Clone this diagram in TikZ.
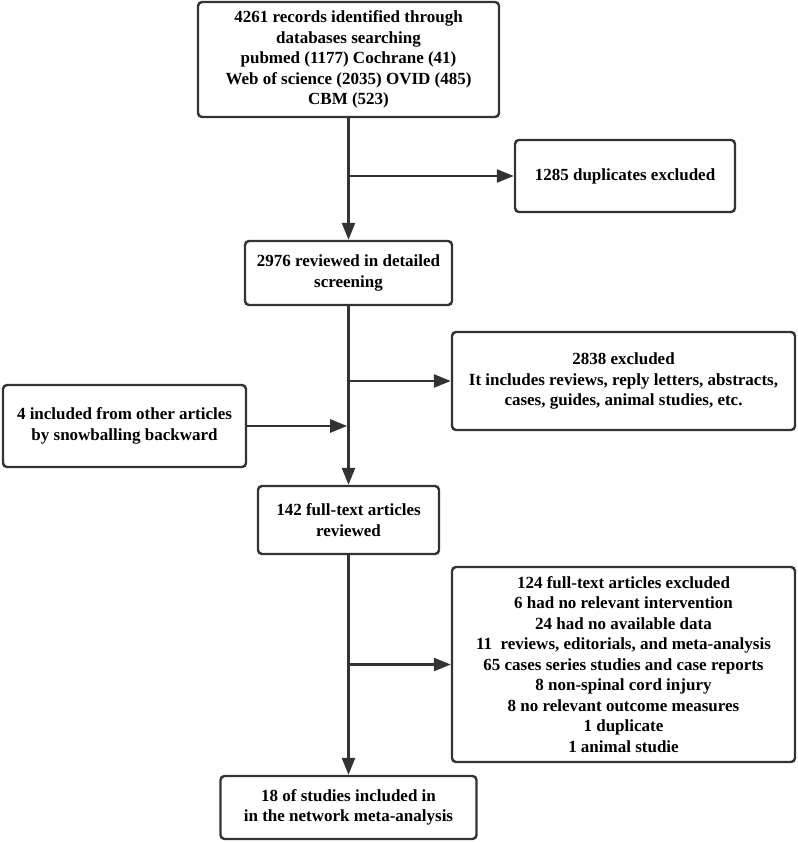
\documentclass[tikz,border=0pt]{standalone}
\usepackage{fontspec}
\setmainfont{Liberation Serif}
\usetikzlibrary{arrows.meta}
\definecolor{ink}{HTML}{333333}
\begin{document}
\begin{tikzpicture}[x=1pt,y=-1pt,
  box/.style={draw=ink,line width=2.4pt,rounded corners=4pt,align=center,
    font=\bfseries\fontsize{17}{20.5}\selectfont,inner sep=0pt,text=black},
  conn/.style={draw=ink,line width=2.6pt},
  arr/.style={conn,-{Triangle[length=17pt,width=13pt]}}]
\useasboundingbox (0,0) rectangle (797,842);
\node[box,minimum width=301pt,minimum height=115pt] (top) at (348.5,59.5)
  {4261 records identified through\\databases searching\\pubmed (1177) Cochrane (41)\\Web of science (2035) OVID (485)\\CBM (523)};
\node[box,minimum width=220pt,minimum height=72pt] (dup) at (625,176)
  {1285 duplicates excluded};
\node[box,minimum width=207pt,minimum height=64pt] (scr) at (348.5,273)
  {2976 reviewed in detailed\\screening};
\node[box,minimum width=243pt,minimum height=82pt] (snow) at (124.5,426)
  {4 included from other articles\\by snowballing backward};
\node[box,minimum width=343pt,minimum height=98pt] (exa) at (623.5,381)
  {2838 excluded\\It includes reviews, reply letters, abstracts,\\cases, guides, animal studies, etc.};
\node[box,minimum width=181pt,minimum height=68pt] (full) at (348.5,520)
  {142 full-text articles\\reviewed};
\node[box,minimum width=343pt,minimum height=195pt] (exb) at (623.5,664.5)
  {124 full-text articles excluded\\6 had no relevant intervention\\24 had no available data\\11\ \ reviews, editorials, and meta-analysis\\65 cases series studies and case reports\\8 non-spinal cord injury\\8 no relevant outcome measures\\1 duplicate\\1 animal studie};
\node[box,minimum width=256pt,minimum height=63pt] (fin) at (348.5,807.5)
  {18 of studies included in\\in the network meta-analysis};
\coordinate (j1) at (top.south |- dup.west);
\coordinate (j2) at (scr.south |- exa.west);
\coordinate (j3) at (scr.south |- snow.east);
\coordinate (j4) at (full.south |- exb.west);
\draw[arr] (top.south) -- (scr.north);
\draw[arr] (j1) -- (dup.west);
\draw[arr] (scr.south) -- (full.north);
\draw[arr] (j2) -- (exa.west);
\draw[arr,shorten >=1.3pt] (snow.east) -- (j3);
\draw[arr] (full.south) -- (fin.north);
\draw[arr] (j4) -- (exb.west);
\end{tikzpicture}
\end{document}
